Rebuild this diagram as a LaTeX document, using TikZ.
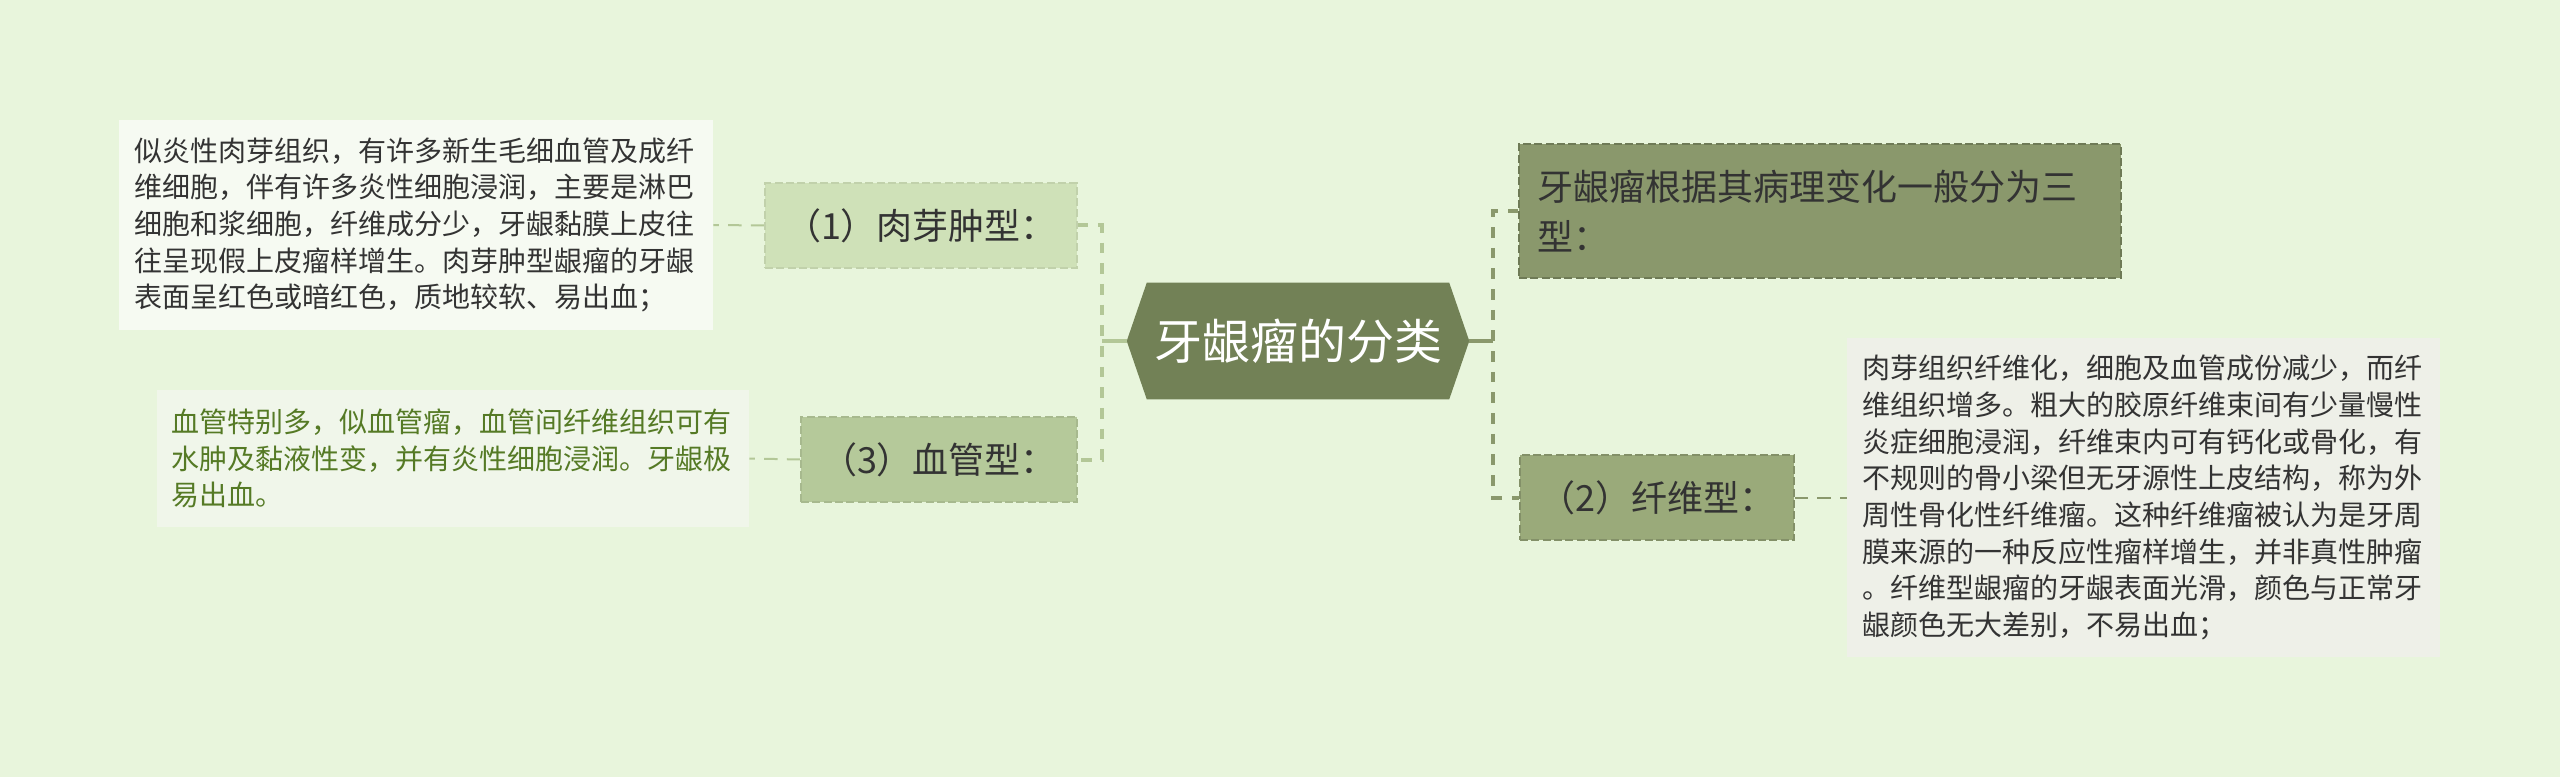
\documentclass[tikz,border=0pt]{standalone}
\usepackage{fontspec}
\setmainfont{Noto Sans CJK SC}
\usetikzlibrary{backgrounds}
\definecolor{bgc}{HTML}{E8F5DC}
\definecolor{rootc}{HTML}{728156}
\definecolor{topc}{HTML}{8A986C}
\definecolor{twoc}{HTML}{9AAA7A}
\definecolor{onec}{HTML}{CFE1B8}
\definecolor{threec}{HTML}{B5C99A}
\definecolor{tonec}{HTML}{F6FAF2}
\definecolor{ttwoc}{HTML}{EEF0E8}
\definecolor{tthreec}{HTML}{F0F6EA}
\definecolor{txtdark}{HTML}{333333}
\definecolor{txtgreen}{HTML}{557A25}
\definecolor{lline}{HTML}{B3C797}
\definecolor{rline}{HTML}{8A986C}
\begin{document}
\begin{tikzpicture}[x=0.75pt,y=-0.75pt,
  catbox/.style={rectangle, inner sep=0pt, text=txtdark,
    font=\fontsize{27pt}{38pt}\selectfont, line width=1.2pt, dash pattern=on 6pt off 2.5pt},
  txtbox/.style={rectangle, inner sep=0pt, text width=422pt, align=left,
    font=\fontsize{21pt}{27.5pt}\selectfont},
  lconn/.style={draw=lline, line width=3pt, dash pattern=on 8pt off 7.5pt},
  rconn/.style={draw=rline, line width=3pt, dash pattern=on 8pt off 7.5pt},
  lsolid/.style={draw=lline, line width=3pt},
  rsolid/.style={draw=rline, line width=3pt},
  ldash/.style={draw=lline, line width=1.5pt, dash pattern=on 10pt off 7pt},
  rdash/.style={draw=rline, line width=1.5pt, dash pattern=on 10pt off 7pt}
]
\useasboundingbox (0,0) rectangle (2560,777);

% root
\node[rectangle, inner sep=0pt, minimum width=256.5pt, minimum height=87pt, text=white,
  font=\fontsize{36pt}{40pt}\selectfont] (root) at (1298,341) {牙龈瘤的分类};

% category nodes
\node[catbox, fill=onec, draw=onec!93!black, minimum width=234pt, minimum height=63.75pt]
  (n1) at (921,225.5) {（1）肉芽肿型：};
\node[catbox, fill=threec, draw=threec!92!black, minimum width=207pt, minimum height=63.75pt]
  (n3) at (939,459.5) {（3）血管型：};
\node[catbox, fill=twoc, draw=twoc!85!black, minimum width=205.5pt, minimum height=63.75pt]
  (n2) at (1657,497.5) {（2）纤维型：};
\node[catbox, fill=topc, draw=topc!80!black, minimum width=451.5pt, minimum height=100.5pt,
  text width=424.5pt, align=left]
  (ntop) at (1820,211) {牙龈瘤根据其病理变化一般分为三\\型：};

% text boxes
\node[txtbox, fill=tonec, text=txtdark, minimum width=445.5pt, minimum height=157.5pt]
  (t1) at (416,225) {似炎性肉芽组织，有许多新生毛细血管及成纤\\
维细胞，伴有许多炎性细胞浸润，主要是淋巴\\
细胞和浆细胞，纤维成分少，牙龈黏膜上皮往\\
往呈现假上皮瘤样增生。肉芽肿型龈瘤的牙龈\\
表面呈红色或暗红色，质地较软、易出血；};
\node[txtbox, fill=tthreec, text=txtgreen, minimum width=444pt, minimum height=102.75pt]
  (t3) at (453,458.5) {血管特别多，似血管瘤，血管间纤维组织可有\\
水肿及黏液性变，并有炎性细胞浸润。牙龈极\\
易出血。};
\node[txtbox, fill=ttwoc, text=txtdark, minimum width=444.75pt, minimum height=239.25pt]
  (t2) at (2143.5,497.5) {肉芽组织纤维化，细胞及血管成份减少，而纤\\
维组织增多。粗大的胶原纤维束间有少量慢性\\
炎症细胞浸润，纤维束内可有钙化或骨化，有\\
不规则的骨小梁但无牙源性上皮结构，称为外\\
周性骨化性纤维瘤。这种纤维瘤被认为是牙周\\
膜来源的一种反应性瘤样增生，并非真性肿瘤\\
。纤维型龈瘤的牙龈表面光滑，颜色与正常牙\\
龈颜色无大差别，不易出血；};

\begin{scope}[on background layer]
  \fill[bgc] (0,0) rectangle (2560,777);
  \fill[rootc] (root.west) -- ([xshift=15pt]root.north west) -- ([xshift=-15pt]root.north east)
    -- (root.east) -- ([xshift=-15pt]root.south east) -- ([xshift=15pt]root.south west) -- cycle;
\end{scope}

\coordinate (lv) at (1102,341);
\coordinate (rv) at (1493,341);

\begin{scope}[on background layer]
\draw[lsolid] (root.west) -- (lv);
\draw[rsolid] (root.east) -- (rv);
\draw[lconn] (n1.east) -- (n1.east -| lv) -- (n3.east -| lv) -- (n3.east);
\draw[rconn] (ntop.west) -- (ntop.west -| rv) -- (n2.west -| rv) -- (n2.west);
\draw[ldash] (n1.west) -- (t1.east);
\draw[ldash] (n3.west) -- (t3.east);
\draw[rdash] (n2.east) -- (t2.west);
\end{scope}
\end{tikzpicture}
\end{document}
